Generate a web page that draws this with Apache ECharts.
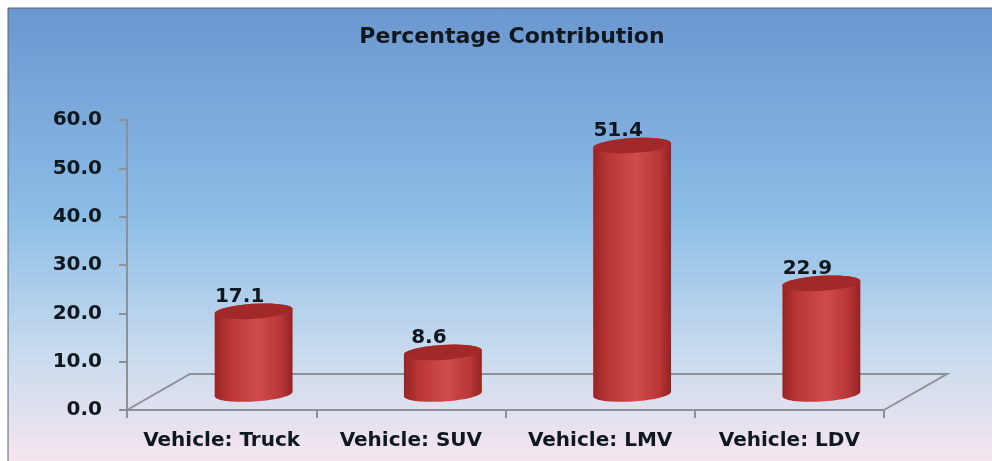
<!DOCTYPE html>
<html>
<head>
<meta charset="utf-8">
<title>Percentage Contribution</title>
<style>
  html, body { margin: 0; padding: 0; background: #fff; }
  #chart { width: 992px; height: 461px; }
</style>
<script src="https://cdn.jsdelivr.net/npm/echarts@6/dist/echarts.min.js"></script>
</head>
<body>
<div id="chart"></div>
<script>
var categories = ["Vehicle: Truck", "Vehicle: SUV", "Vehicle: LMV", "Vehicle: LDV"];
var values = [17.1, 8.6, 51.4, 22.9];

var FONT = '"DejaVu Sans", sans-serif';
var TEXT = "#10181f";
var AXIS = "#8b9099";

// points along a slightly tilted ellipse, angles in radians
function ellipsePts(cx, cy, rx, ry, from, to) {
  var tilt = -0.06, pts = [];
  for (var i = 0; i <= 40; i++) {
    var a = from + (to - from) * i / 40;
    var x = rx * Math.cos(a), y = ry * Math.sin(a);
    pts.push([cx + x * Math.cos(tilt) - y * Math.sin(tilt), cy + x * Math.sin(tilt) + y * Math.cos(tilt)]);
  }
  return pts;
}

function drawFloor(params, api) {
  var c = params.coordSys;
  var b = c.y + c.height, r = c.x + c.width;
  var dx = 63, dy = 36;
  return {
    type: "polyline",
    shape: { points: [[c.x, b], [c.x + dx, b - dy], [r + dx, b - dy], [r, b]] },
    style: { stroke: AXIS, lineWidth: 2, fill: null }
  };
}

function drawCylinder(params, api) {
  var i = api.value(0);
  var top = api.coord([i, api.value(1)]);
  var base = api.coord([i, 0]);
  var cx = top[0] + 32, dy = 16;
  var topY = top[1] - dy, baseY = base[1] - dy;
  var rx = 39, ry = 7.5;
  var body = ellipsePts(cx, topY, rx, ry, Math.PI, 2 * Math.PI)
    .concat(ellipsePts(cx, baseY, rx, ry, 0, Math.PI));
  return {
    type: "group",
    children: [
      {
        type: "polygon",
        shape: { points: body },
        style: {
          fill: new echarts.graphic.LinearGradient(0, 0, 1, 0, [
            { offset: 0, color: "#982323" },
            { offset: 0.2, color: "#bb3737" },
            { offset: 0.55, color: "#d04c4c" },
            { offset: 0.85, color: "#b93636" },
            { offset: 1, color: "#942222" }
          ])
        }
      },
      {
        type: "polygon",
        shape: { points: ellipsePts(cx, topY, rx, ry, 0, 2 * Math.PI) },
        style: { fill: "#a32828" }
      },
      {
        type: "text",
        x: cx - 14,
        y: topY - 15,
        style: {
          text: api.value(1).toFixed(1),
          fill: TEXT,
          font: "bold 20px " + FONT,
          textAlign: "center",
          textVerticalAlign: "middle"
        }
      }
    ]
  };
}

var chart = echarts.init(document.getElementById("chart"), null, { renderer: "canvas" });
chart.setOption({
  animation: false,
  graphic: [
    {
      type: "rect",
      z: -1,
      silent: true,
      shape: { x: 8, y: 8, width: 990, height: 460 },
      style: {
        stroke: "#5a6068",
        lineWidth: 1,
        fill: new echarts.graphic.LinearGradient(0, 0, 0, 1, [
          { offset: 0, color: "#6a97cf" },
          { offset: 0.45, color: "#8cbde6" },
          { offset: 0.75, color: "#c8dbee" },
          { offset: 1, color: "#f8e6ef" }
        ])
      }
    }
  ],
  title: {
    text: "Percentage Contribution",
    left: 507,
    top: 21,
    textAlign: "center",
    textStyle: { fontFamily: FONT, fontSize: 22, fontWeight: "bold", color: TEXT }
  },
  grid: { left: 127, right: 108, top: 120, bottom: 51 },
  xAxis: {
    type: "category",
    data: categories,
    axisLine: { lineStyle: { color: AXIS, width: 2 } },
    axisTick: { show: true, length: 8, lineStyle: { color: AXIS, width: 2 } },
    axisLabel: { interval: 0, margin: 21, fontFamily: FONT, fontSize: 20, fontWeight: "bold", color: TEXT }
  },
  yAxis: {
    type: "value",
    min: 0,
    max: 60,
    interval: 10,
    axisLine: { show: true, lineStyle: { color: AXIS, width: 2 } },
    axisTick: { show: true, length: 8, lineStyle: { color: AXIS, width: 2 } },
    splitLine: { show: false },
    axisLabel: {
      margin: 25,
      padding: [6, 0, 0, 0],
      fontFamily: FONT,
      fontSize: 20,
      fontWeight: "bold",
      color: TEXT,
      formatter: function (v) { return v.toFixed(1); }
    }
  },
  series: [
    {
      type: "custom",
      renderItem: drawFloor,
      clip: false,
      silent: true,
      data: [[0, 0]],
      z: 1
    },
    {
      type: "custom",
      renderItem: drawCylinder,
      clip: false,
      encode: { x: 0, y: 1 },
      data: values.map(function (v, i) { return [i, v]; }),
      z: 2
    }
  ]
});
</script>
</body>
</html>
